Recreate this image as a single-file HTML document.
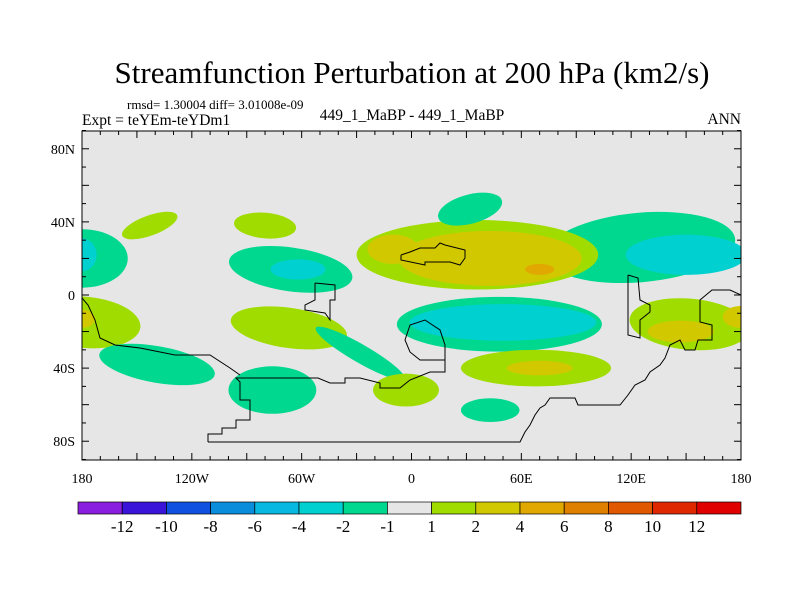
<!DOCTYPE html>
<html><head><meta charset="utf-8"><style>
body{margin:0;background:#fff}
svg text{font-family:"Liberation Serif",serif;fill:#000}
</style></head><body>
<svg id="c" width="800" height="600">
<defs><clipPath id="clip"><rect x="82" y="131" width="659" height="329"/></clipPath></defs>
<text x="412" y="83" font-size="31" text-anchor="middle">Streamfunction Perturbation at 200 hPa (km2/s)</text>
<text x="127" y="109" font-size="13">rmsd= 1.30004 diff= 3.01008e-09</text>
<text x="82" y="125" font-size="15.5">Expt = teYEm-teYDm1</text>
<text x="412" y="120" font-size="15.5" text-anchor="middle">449_1_MaBP - 449_1_MaBP</text>
<text x="741" y="124" font-size="15.5" text-anchor="end">ANN</text>
<rect x="82" y="131" width="659" height="329" fill="#e6e6e6"/>
<g id="blobs" clip-path="url(#clip)"></g>
<polyline clip-path="url(#clip)" fill="none" stroke="#000" stroke-width="1"
points="208,442 208,434 222,434 222,428 236,428 236,420 250,420 250,400 240,400 240,382 236,378 300,378 318,378 330,383 345,383 345,378 360,378 380,383 380,388 400,388 410,380 430,372 445,372 445,360 420,360 410,352 405,340 410,325 425,320 440,330 445,345 445,360"/>
<polyline clip-path="url(#clip)" fill="none" stroke="#000" stroke-width="1"
points="208,442 520,442 525,432 530,425 535,415 540,408 545,405 550,398 575,398 578,405 620,405 628,395 635,385 645,380 650,372 660,365 665,358 670,345 680,340 685,350 695,350 698,340 712,340 712,325 700,322 700,300 712,290 730,290 741,295"/>
<polyline clip-path="url(#clip)" fill="none" stroke="#000" stroke-width="1"
points="82,298 88,305 95,320 100,338 115,345 140,348 160,352 175,355 210,355 230,368 240,375"/>
<polyline clip-path="url(#clip)" fill="none" stroke="#000" stroke-width="1"
points="401,255 401,260 425,265 425,262 450,262 460,265 465,258 465,250 445,245 440,243 435,248 420,248 410,252 401,255"/>
<polyline clip-path="url(#clip)" fill="none" stroke="#000" stroke-width="1"
points="315,283 315,300 305,305 305,310 325,313 330,320 330,300 335,300 335,285 315,283"/>
<polyline clip-path="url(#clip)" fill="none" stroke="#000" stroke-width="1"
points="628,275 628,335 640,338 640,320 650,312 650,305 640,300 638,278 628,275"/>
<rect x="82" y="131" width="659" height="329" fill="none" stroke="#000" stroke-width="1"/>
<g id="axes"></g>
<g id="cbar"></g>
</svg>
<script>
const NS='http://www.w3.org/2000/svg';
// blobs: lon center, lat center, lon radius, lat radius, rotation(deg), level index
const blobLon=[-143,-80,-180,125,150,-66,-62,-178,-180,-67,-139,-76,-28,48,50,36,43,-10,70,32,68,70,43,-3,152,147,180,-180,180];
const blobLat=[38,38,20,26,22,14,14,-15,-13,-18,-38,-52,-32,-16,-15,22,20,25,14,47,-40,-40,-63,-52,-16,-20,-12,22,-12];
const blobRx=[16,17,25,52,33,34,15,30,7,32,32,24,28,56,51,66,50,14,8,18,41,18,16,18,33,18,10,8,8];
const blobRy=[5.5,7,16,19,11,12,5.5,14,5,11,10,13,5,15,10,19,15,8,3,8,10,4,6.5,9,14,6,6,9,6];
const blobRot=[20,-5,0,5,0,-8,0,-5,0,-8,-10,0,-30,0,0,0,0,0,0,15,0,0,0,0,-5,0,0,0,0];
const blobLevel=[8,8,6,6,5,6,5,8,9,8,6,6,6,6,5,8,9,9,10,6,8,9,6,8,8,9,9,5,9];
const cbLabels=['-12','-10','-8','-6','-4','-2','-1','1','2','4','6','8','10','12'];
const cbColors=['#8a1ee0','#3a14d8','#1050e0','#0a8edc','#08b8e0','#00d0d0','#00d890','#e6e6e6','#a0dc00','#d2c800','#e0a800','#e08000','#e05800','#e02800','#e00000'];
const xTicks=[-180,-120,-60,0,60,120,180];
const xTickLabels=['180','120W','60W','0','60E','120E','180'];
const yTicks=[80,40,0,-40,-80];
const yTickLabels=['80N','40N','0','40S','80S'];
const sx=lon=>82+(lon+180)*659/360;
const sy=lat=>295-lat*329/180;
const kx=659/360, ky=329/180;
const g=document.getElementById('blobs');
for(let i=0;i<blobLon.length;i++){
  const e=document.createElementNS(NS,'ellipse');
  const cx=sx(blobLon[i]),cy=sy(blobLat[i]);
  e.setAttribute('cx',cx);e.setAttribute('cy',cy);
  e.setAttribute('rx',blobRx[i]*kx);e.setAttribute('ry',blobRy[i]*ky);
  e.setAttribute('transform','rotate('+(-blobRot[i])+' '+cx+' '+cy+')');
  e.setAttribute('fill',cbColors[blobLevel[i]]);
  
  
  g.appendChild(e);
}
const ax=document.getElementById('axes');
function line(x1,y1,x2,y2){const l=document.createElementNS(NS,'line');l.setAttribute('x1',x1);l.setAttribute('y1',y1);l.setAttribute('x2',x2);l.setAttribute('y2',y2);l.setAttribute('stroke','#000');


ax.appendChild(l);}
for(let lon=-180;lon<=180;lon+=10){const L=lon%30===0?7:4;const x=sx(lon);line(x,131,x,131+L);line(x,460,x,460-L);}
for(let lat=-90;lat<=90;lat+=10){const L=lat%20===0?7:4;const y=sy(lat);line(82,y,82+L,y);line(741,y,741-L,y);}
function txt(x,y,s,anchor,size,name){const t=document.createElementNS(NS,'text');t.setAttribute('x',x);t.setAttribute('y',y);t.setAttribute('text-anchor',anchor);t.setAttribute('font-size',size);t.textContent=s;


return t;}
xTicks.forEach((v,i)=>ax.appendChild(txt(sx(v),483,xTickLabels[i],'middle',14,'x-tick-label')));
yTicks.forEach((v,i)=>ax.appendChild(txt(75,sy(v)+5,yTickLabels[i],'end',14,'y-tick-label')));
const cb=document.getElementById('cbar');
const bx=78,bw=(741-78)/cbColors.length;
cbColors.forEach((c,i)=>{const r=document.createElementNS(NS,'rect');r.setAttribute('x',bx+i*bw);r.setAttribute('y',502);r.setAttribute('width',bw);r.setAttribute('height',12);r.setAttribute('fill',c);r.setAttribute('stroke','#000');r.setAttribute('stroke-width','0.7');


cb.appendChild(r);});
cbLabels.forEach((s,i)=>cb.appendChild(txt(bx+(i+1)*bw,532,s,'middle',17,'colorbar-label')));
</script>
</body></html>
